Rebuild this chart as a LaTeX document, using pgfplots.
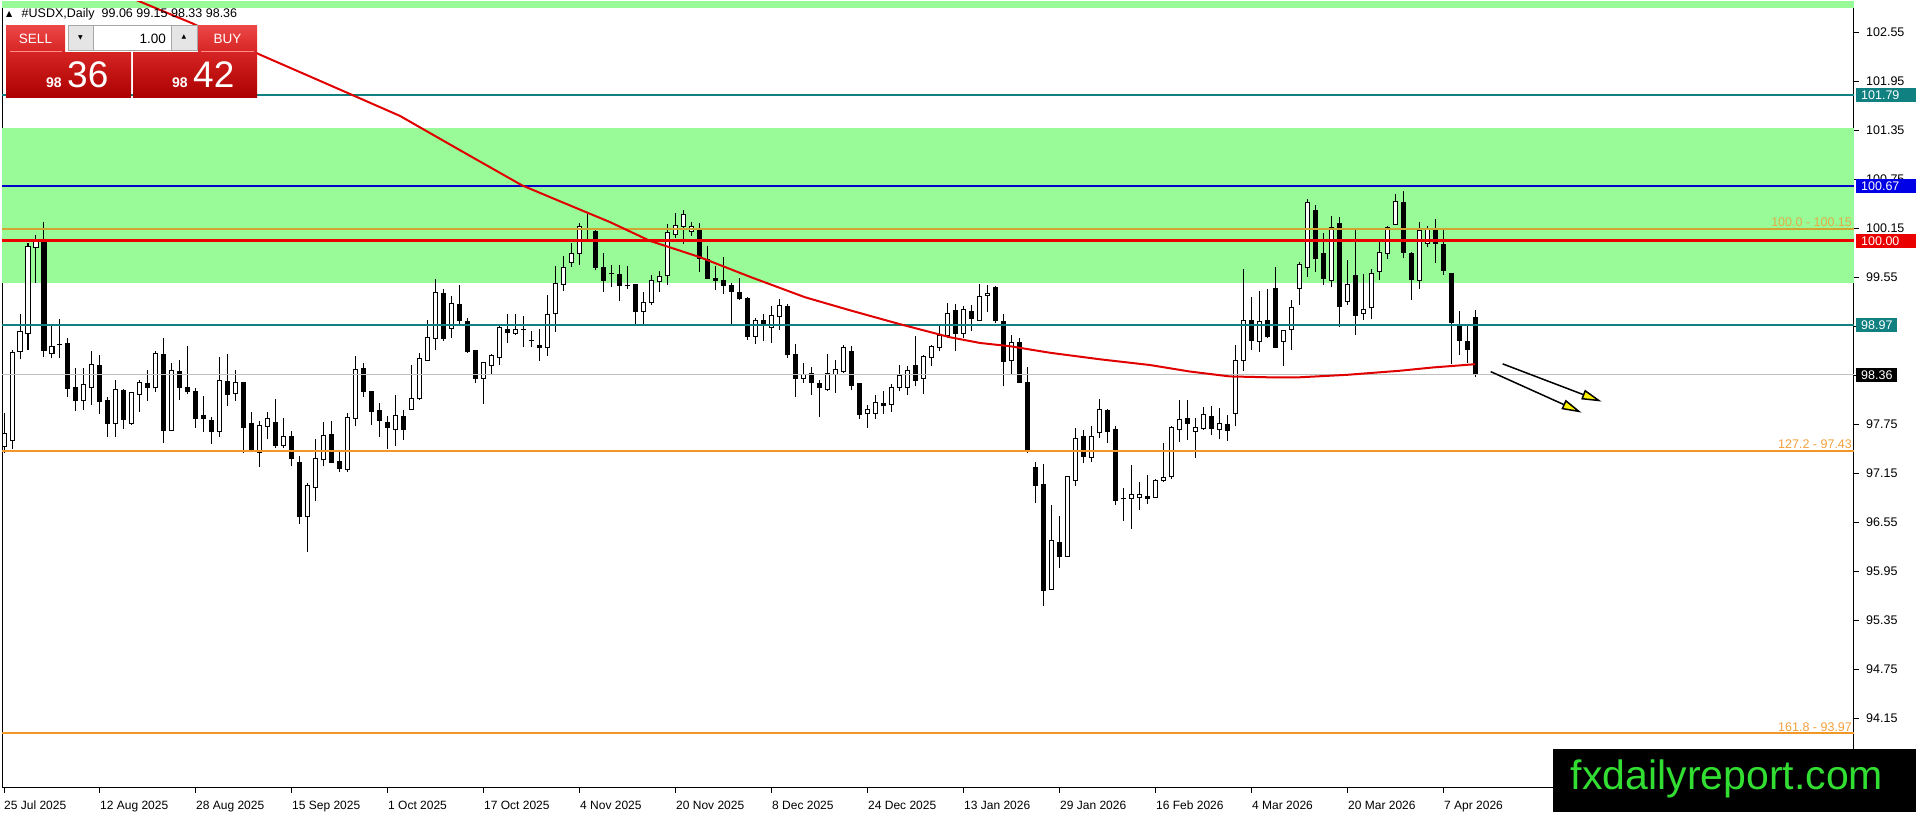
\documentclass[border=0pt]{standalone}
\usepackage{pgfplots}
\pgfplotsset{compat=1.18}
\usepackage{pgfplotstable}
\usepackage{fontspec}
\setmainfont{Liberation Sans}
\newfontfamily\dejavu{DejaVu Sans}
\usetikzlibrary{arrows.meta}

\definecolor{pgreen}{RGB}{152,251,152}
\definecolor{tealc}{RGB}{16,128,128}
\definecolor{bluec}{RGB}{0,0,205}
\definecolor{boxblue}{RGB}{0,0,230}
\definecolor{redc}{RGB}{235,0,0}
\definecolor{goldc}{RGB}{210,165,50}
\definecolor{orangec}{RGB}{242,150,40}
\definecolor{fibgold}{RGB}{228,172,70}
\definecolor{fiborange}{RGB}{242,160,60}
\definecolor{bidgrey}{RGB}{192,192,192}
\definecolor{mac}{RGB}{225,0,0}
\definecolor{wmgreen}{RGB}{50,222,50}
\definecolor{hdrtop}{RGB}{236,72,72}
\definecolor{hdrbot}{RGB}{214,36,36}
\definecolor{pxtop}{RGB}{214,36,36}
\definecolor{pxbot}{RGB}{172,0,0}

\pgfplotstableread{
i o h l c
0 97.48 97.89 97.40 97.64
1 97.56 98.66 97.45 98.63
2 98.65 99.11 98.55 98.89
3 98.87 99.97 98.66 99.93
4 99.92 100.07 99.49 99.99
5 99.99 100.23 98.58 98.66
6 98.62 98.96 98.56 98.71
7 98.73 99.04 98.56 98.73
8 98.74 98.81 98.09 98.19
9 98.21 98.44 97.92 98.04
10 98.04 98.44 97.93 98.24
11 98.21 98.65 97.99 98.49
12 98.48 98.60 97.88 98.03
13 98.05 98.09 97.60 97.77
14 97.77 98.30 97.60 98.18
15 98.17 98.19 97.70 97.81
16 97.77 98.15 97.75 98.14
17 98.12 98.30 97.91 98.26
18 98.25 98.42 98.04 98.21
19 98.20 98.65 98.15 98.62
20 98.61 98.81 97.53 97.68
21 97.68 98.51 97.67 98.41
22 98.40 98.54 98.05 98.21
23 98.21 98.71 98.12 98.15
24 98.16 98.20 97.71 97.83
25 97.86 98.10 97.66 97.82
26 97.80 97.84 97.51 97.66
27 97.66 98.58 97.60 98.29
28 98.28 98.62 97.98 98.12
29 98.13 98.42 98.04 98.27
30 98.26 98.27 97.40 97.71
31 97.77 97.91 97.41 97.42
32 97.41 97.79 97.23 97.74
33 97.73 97.90 97.57 97.82
34 97.78 98.06 97.46 97.50
35 97.49 97.83 97.46 97.60
36 97.61 97.67 97.24 97.33
37 97.29 97.36 96.53 96.62
38 96.62 97.03 96.19 97.00
39 96.98 97.57 96.81 97.34
40 97.32 97.78 97.24 97.62
41 97.63 97.80 97.28 97.29
42 97.30 97.44 97.17 97.21
43 97.20 97.89 97.17 97.84
44 97.83 98.59 97.73 98.43
45 98.44 98.50 98.09 98.15
46 98.15 98.16 97.74 97.91
47 97.92 98.02 97.60 97.80
48 97.78 97.86 97.45 97.72
49 97.69 98.11 97.49 97.86
50 97.85 97.93 97.56 97.69
51 97.94 98.48 97.93 98.07
52 98.07 98.63 98.05 98.56
53 98.54 99.03 98.54 98.82
54 98.81 99.53 98.67 99.37
55 99.36 99.41 98.78 98.81
56 98.93 99.32 98.81 99.23
57 99.22 99.46 98.98 99.02
58 99.01 99.05 98.63 98.64
59 98.66 98.67 98.26 98.32
60 98.32 98.52 98.00 98.51
61 98.47 98.62 98.36 98.60
62 98.57 98.96 98.48 98.94
63 98.92 99.11 98.75 98.88
64 98.87 99.11 98.85 98.92
65 98.92 99.08 98.70 98.91
66 98.78 98.90 98.70 98.78
67 98.72 98.92 98.53 98.70
68 98.70 99.34 98.59 99.10
69 99.11 99.69 98.89 99.48
70 99.47 99.81 99.39 99.68
71 99.74 99.97 99.68 99.85
72 99.85 100.22 99.71 100.18
73 100.14 100.35 100.02 100.14
74 100.12 100.15 99.64 99.68
75 99.68 99.85 99.37 99.52
76 99.60 99.71 99.43 99.60
77 99.59 99.71 99.26 99.45
78 99.45 99.69 99.41 99.45
79 99.46 99.47 98.98 99.13
80 99.14 99.37 98.98 99.25
81 99.24 99.58 99.21 99.52
82 99.50 99.63 99.37 99.56
83 99.57 100.21 99.46 100.10
84 100.08 100.34 100.03 100.19
85 100.18 100.38 99.96 100.32
86 100.11 100.23 100.06 100.17
87 100.14 100.22 99.62 99.79
88 99.77 99.94 99.53 99.54
89 99.54 99.69 99.40 99.52
90 99.52 99.80 99.35 99.45
91 99.45 99.48 98.98 99.38
92 99.37 99.54 99.28 99.29
93 99.30 99.31 98.79 98.83
94 98.83 99.06 98.74 99.03
95 99.03 99.10 98.77 98.98
96 98.94 99.20 98.75 99.09
97 99.07 99.29 98.91 99.21
98 99.20 99.23 98.56 98.61
99 98.61 98.74 98.09 98.32
100 98.32 98.50 98.26 98.37
101 98.38 98.46 98.11 98.26
102 98.25 98.30 97.84 98.20
103 98.18 98.62 98.16 98.38
104 98.37 98.54 98.14 98.42
105 98.40 98.73 98.38 98.70
106 98.64 98.71 98.17 98.23
107 98.25 98.26 97.82 97.87
108 97.89 97.99 97.71 97.94
109 97.89 98.11 97.82 98.02
110 98.01 98.16 97.88 97.98
111 98.00 98.25 97.91 98.20
112 98.21 98.48 98.16 98.35
113 98.21 98.47 98.11 98.41
114 98.47 98.84 98.22 98.29
115 98.32 98.60 98.13 98.58
116 98.57 98.73 98.47 98.71
117 98.70 98.96 98.65 98.84
118 98.84 99.24 98.81 99.11
119 99.15 99.23 98.65 98.87
120 98.87 99.20 98.81 99.16
121 99.14 99.22 98.90 99.05
122 99.03 99.47 99.02 99.32
123 99.33 99.46 99.13 99.36
124 99.43 99.45 98.99 99.02
125 99.01 99.11 98.22 98.52
126 98.53 98.85 98.36 98.76
127 98.76 98.81 98.26 98.27
128 98.26 98.45 97.40 97.45
129 97.23 97.29 96.79 97.00
130 97.02 97.27 95.53 95.72
131 95.73 96.77 95.72 96.33
132 96.31 96.63 95.99 96.14
133 96.13 97.12 96.13 97.12
134 97.07 97.71 97.00 97.58
135 97.60 97.68 97.28 97.36
136 97.35 97.73 97.29 97.60
137 97.65 98.06 97.59 97.94
138 97.92 97.94 97.53 97.66
139 97.69 97.73 96.76 96.82
140 96.84 96.98 96.57 96.84
141 96.85 97.25 96.47 96.90
142 96.86 97.05 96.71 96.89
143 96.87 97.13 96.78 96.85
144 96.86 97.09 96.85 97.07
145 97.07 97.52 97.05 97.10
146 97.11 97.73 97.08 97.72
147 97.69 98.05 97.54 97.81
148 97.82 98.05 97.56 97.77
149 97.67 97.83 97.34 97.72
150 97.70 97.96 97.69 97.88
151 97.85 97.98 97.62 97.70
152 97.69 97.95 97.57 97.77
153 97.75 97.87 97.55 97.68
154 97.89 98.73 97.73 98.53
155 98.53 99.66 98.41 99.02
156 99.02 99.31 98.67 98.78
157 98.77 99.39 98.64 99.01
158 99.02 99.41 98.81 98.83
159 99.42 99.68 98.70 98.70
160 98.77 98.90 98.47 98.90
161 98.92 99.28 98.67 99.19
162 99.42 99.74 99.22 99.71
163 99.67 100.51 99.56 100.47
164 100.37 100.44 99.62 99.78
165 99.84 100.10 99.46 99.54
166 99.52 100.30 99.43 100.16
167 100.21 100.29 98.95 99.20
168 99.26 99.77 99.22 99.47
169 99.57 100.13 98.85 99.09
170 99.11 99.60 99.03 99.16
171 99.18 99.65 99.04 99.60
172 99.62 99.99 99.52 99.86
173 99.85 100.18 99.78 100.16
174 100.20 100.58 100.19 100.48
175 100.47 100.61 99.79 99.86
176 99.85 99.86 99.27 99.53
177 99.52 100.23 99.41 100.13
178 99.97 100.18 99.92 100.14
179 100.14 100.27 99.73 99.97
180 99.96 100.13 99.58 99.64
181 99.60 99.61 98.49 99.00
182 98.97 99.14 98.60 98.78
183 98.77 98.96 98.51 98.67
184 99.06 99.15 98.33 98.36
}\ohlc

\pgfplotstableread{
i p
10 103.21
17 102.93
23.5 102.665
32 102.28
42.75 101.82
49.5 101.53
57 101.11
64.75 100.68
69.125 100.50
75.75 100.23
80.75 100.00
87 99.80
93.25 99.56
100.125 99.31
105.75 99.15
112 98.98
118.25 98.82
122 98.75
125.75 98.71
130.75 98.63
137 98.55
143.25 98.48
148.25 98.40
153.25 98.34
157.9 98.33
162 98.33
167.9 98.36
174.5 98.41
178.6 98.45
183.9 98.49
}\mavg

\begin{document}
\begin{tikzpicture}
\useasboundingbox (0pt,-812pt) rectangle (1916pt,0pt);
\begin{axis}[
  at={(2pt,-788pt)}, anchor=south west,
  width=1852pt, height=786pt, scale only axis,
  xmin=-0.25, xmax=231.25, ymin=93.302, ymax=102.926,
  axis line style={black, line width=1pt},
  xtick={0,12,...,180},
  xticklabels={25 Jul 2025,12 Aug 2025,28 Aug 2025,15 Sep 2025,1 Oct 2025,17 Oct 2025,4 Nov 2025,20 Nov 2025,8 Dec 2025,24 Dec 2025,13 Jan 2026,29 Jan 2026,16 Feb 2026,4 Mar 2026,20 Mar 2026,7 Apr 2026},
  ytick={94.15,94.75,95.35,95.95,96.55,97.15,97.75,98.35,98.95,99.55,100.15,100.75,101.35,101.95,102.55},
  yticklabels={94.15,94.75,95.35,95.95,96.55,97.15,97.75,{},{},99.55,100.15,100.75,101.35,101.95,102.55},
  xtick pos=left, ytick pos=right, yticklabel pos=right,
  tick align=outside, major tick length=5pt,
  tick style={black, line width=1pt},
  xticklabel style={anchor=base west, inner sep=0pt, yshift=-17pt, font=\fontsize{12}{14}\selectfont},
  yticklabel style={anchor=west, inner sep=0pt, xshift=7pt, font=\fontsize{12.5}{14}\selectfont},
  clip=true,
]
% zones
\addplot[draw=none, fill=pgreen] coordinates {(-1,99.49) (233,99.49) (233,101.38) (-1,101.38)};
\addplot[draw=none, fill=pgreen] coordinates {(-1,102.846) (233,102.846) (233,104) (-1,104)};
% wicks
\addplot[draw=none, mark=none, error bars/.cd, y dir=plus, y explicit, error mark=none,
  error bar style={draw=black, line width=1pt}]
  table[x=i, y=l, y error plus expr={\thisrow{h}-\thisrow{l}}] {\ohlc};
% bodies (outline / bearish fill)
\addplot[draw=none, mark=none, error bars/.cd, y dir=plus, y explicit, error mark=none,
  error bar style={draw=black, line width=5pt}]
  table[x=i, y expr={min(\thisrow{o},\thisrow{c})-0.0061}, y error plus expr={abs(\thisrow{c}-\thisrow{o})+0.0122}] {\ohlc};
% bullish inner
\addplot[draw=none, mark=none, error bars/.cd, y dir=plus, y explicit, error mark=none,
  error bar style={draw=white, line width=3pt}]
  table[x=i, y expr={ifthenelse(\thisrow{c}>\thisrow{o}, \thisrow{o}+0.0061, 0)}, y error plus expr={max(\thisrow{c}-\thisrow{o}-0.0122,0)}] {\ohlc};
% levels
\addplot[bidgrey, line width=1pt] coordinates {(-1,98.36) (233,98.36)};
\addplot[tealc, line width=2pt] coordinates {(-1,101.79) (233,101.79)};
\addplot[bluec, line width=2pt] coordinates {(-1,100.67) (233,100.67)};
\addplot[goldc, line width=1.8pt] coordinates {(-1,100.15) (233,100.15)};
\addplot[redc, line width=3pt] coordinates {(-1,100.00) (233,100.00)};
\addplot[tealc, line width=2pt] coordinates {(-1,98.97) (233,98.97)};
\addplot[orangec, line width=2pt] coordinates {(-1,97.43) (233,97.43)};
\addplot[orangec, line width=2pt] coordinates {(-1,93.97) (233,93.97)};
% moving average
\addplot[mac, line width=2pt] table[x=i, y=p] {\mavg};
% arrows
\addplot[black, line width=1.5pt, -{Triangle[length=20pt,width=10pt,fill=yellow]}] coordinates {(187.34,98.494) (199.71,98.032)};
\addplot[black, line width=1.5pt, -{Triangle[length=20pt,width=10pt,fill=yellow]}] coordinates {(185.84,98.399) (197.21,97.897)};
% fib labels
\node[anchor=south east, inner sep=1.5pt, text=fibgold, font=\fontsize{12.5}{14}\selectfont] at (axis cs:231.2,100.15) {100.0 - 100.15};
\node[anchor=south east, inner sep=1.5pt, text=fiborange, font=\fontsize{12.5}{14}\selectfont] at (axis cs:231.2,97.43) {127.2 - 97.43};
\node[anchor=south east, inner sep=1.5pt, text=fiborange, font=\fontsize{12.5}{14}\selectfont] at (axis cs:231.2,93.97) {161.8 - 93.97};
% anchors for price boxes
\coordinate (RA) at (axis cs:231.25,101.79);
\coordinate (RB) at (axis cs:231.25,100.67);
\coordinate (RC) at (axis cs:231.25,100.00);
\coordinate (RD) at (axis cs:231.25,98.97);
\coordinate (RE) at (axis cs:231.25,98.36);
\end{axis}
% price boxes
\fill[tealc] ([shift={(2pt,-7pt)}]RA) rectangle ([shift={(62pt,7pt)}]RA);
\node[anchor=west, inner sep=0pt, text=white, font=\fontsize{12.5}{14}\selectfont] at ([xshift=7pt]RA) {101.79};
\fill[boxblue] ([shift={(2pt,-7pt)}]RB) rectangle ([shift={(62pt,7pt)}]RB);
\node[anchor=west, inner sep=0pt, text=white, font=\fontsize{12.5}{14}\selectfont] at ([xshift=7pt]RB) {100.67};
\fill[redc] ([shift={(2pt,-7pt)}]RC) rectangle ([shift={(62pt,7pt)}]RC);
\node[anchor=west, inner sep=0pt, text=white, font=\fontsize{12.5}{14}\selectfont] at ([xshift=7pt]RC) {100.00};
\fill[tealc] ([shift={(2pt,-7pt)}]RD) rectangle ([shift={(43pt,7pt)}]RD);
\node[anchor=west, inner sep=0pt, text=white, font=\fontsize{12.5}{14}\selectfont] at ([xshift=7pt]RD) {98.97};
\fill[black] ([shift={(2pt,-7pt)}]RE) rectangle ([shift={(43pt,7pt)}]RE);
\node[anchor=west, inner sep=0pt, text=white, font=\fontsize{12.5}{14}\selectfont] at ([xshift=7pt]RE) {98.36};
% title
\node[anchor=base west, inner sep=0pt, font=\dejavu\fontsize{8}{8}\selectfont] at (6pt,-16.5pt) {▲};
\node[anchor=base west, inner sep=0pt, font=\fontsize{12.5}{14}\selectfont] at (21.5pt,-17.5pt) {\#USDX,Daily\hspace{7pt}99.06 99.15 98.33 98.36};
% trading panel
\shade[top color=hdrtop, bottom color=hdrbot] (6pt,-25pt) rectangle (65pt,-52pt);
\shade[top color=hdrtop, bottom color=hdrbot] (198pt,-25pt) rectangle (257pt,-52pt);
\draw[white!55!red, line width=0.8pt] (10pt,-51.5pt) -- (62pt,-51.5pt);
\draw[white!55!red, line width=0.8pt] (201pt,-51.5pt) -- (254pt,-51.5pt);
\node[text=white, font=\fontsize{13.5}{14}\selectfont] at (35.5pt,-38.5pt) {SELL};
\node[text=white, font=\fontsize{13.5}{14}\selectfont] at (227.5pt,-38.5pt) {BUY};
\shade[top color=pxtop, bottom color=pxbot] (6pt,-52pt) rectangle (131pt,-97pt);
\shade[top color=pxtop, bottom color=pxbot] (133pt,-52pt) rectangle (257pt,-97pt);
\node[anchor=base west, inner sep=0pt, text=white, font=\bfseries\fontsize{14}{14}\selectfont] at (46pt,-87pt) {98};
\node[anchor=base west, inner sep=0pt, text=white, font=\fontsize{37}{37}\selectfont] at (67pt,-87pt) {36};
\node[anchor=base west, inner sep=0pt, text=white, font=\bfseries\fontsize{14}{14}\selectfont] at (172pt,-87pt) {98};
\node[anchor=base west, inner sep=0pt, text=white, font=\fontsize{37}{37}\selectfont] at (193pt,-87pt) {42};
\draw[fill=black!10, draw=black!35] (68pt,-25pt) rectangle (93pt,-50pt);
\draw[fill=white, draw=black!35] (93pt,-25pt) rectangle (171pt,-50pt);
\draw[fill=black!10, draw=black!35] (171pt,-25pt) rectangle (197pt,-50pt);
\node[font=\dejavu\fontsize{6}{6}\selectfont] at (80.5pt,-37.5pt) {▼};
\node[font=\dejavu\fontsize{6}{6}\selectfont] at (184pt,-37pt) {▲};
\node[anchor=base east, inner sep=0pt, font=\fontsize{13.5}{14}\selectfont] at (166pt,-43.5pt) {1.00};
% watermark
\fill[black] (1553pt,-749pt) rectangle (1916pt,-812pt);
\node[anchor=base, inner sep=0pt, text=wmgreen, font=\fontsize{41}{41}\selectfont] at (1727pt,-789pt) {fxdailyreport.com};
\end{tikzpicture}
\end{document}
